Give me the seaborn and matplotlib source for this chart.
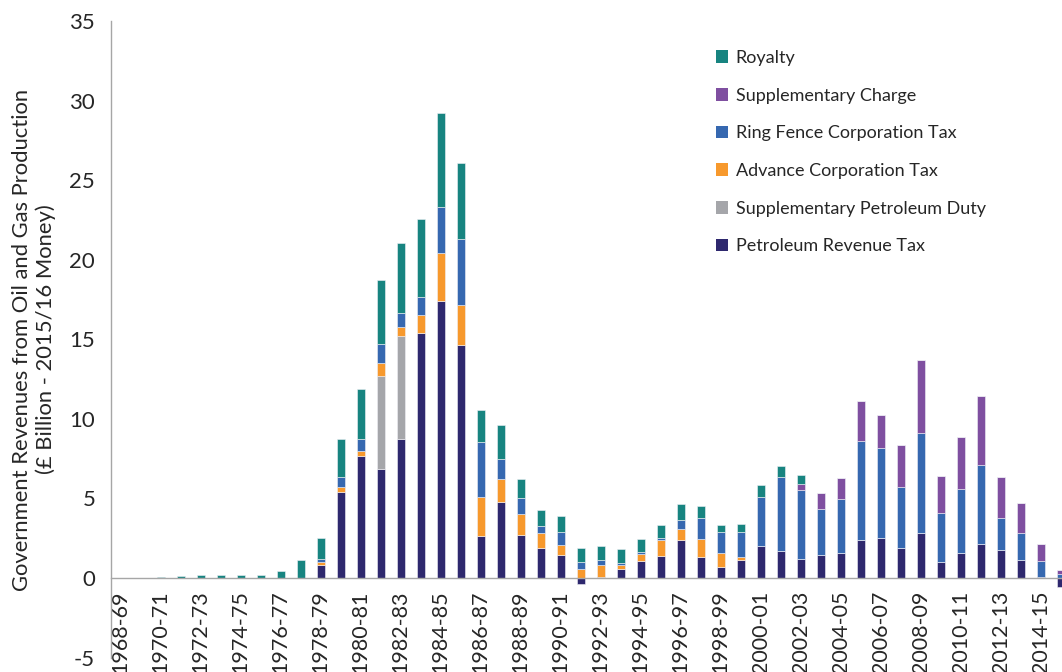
import numpy as np
import matplotlib
matplotlib.use("Agg")
import matplotlib.pyplot as plt
from matplotlib.patches import Patch
import seaborn as sns

# Financial years
years = [f"{y}-{str(y + 1)[-2:]}" for y in range(1968, 2016)]

# Revenue by tax (GBP billion, 2015/16 money)
petroleum_revenue_tax = [
    0, 0, 0, 0, 0, 0, 0, 0, 0, 0, 0.80, 5.41, 7.66, 6.88, 8.77, 15.42,
    17.41, 14.64, 2.62, 4.78, 2.68, 1.89, 1.42, -0.38, 0.08, 0.54, 1.05, 1.40,
    2.41, 1.30, 0.67, 1.13, 1.99, 1.70, 1.21, 1.47, 1.57, 2.37, 2.49, 1.89,
    2.83, 1.01, 1.57, 2.14, 1.76, 1.13, 0.05, -0.55,
]
supplementary_petroleum_duty = [
    0, 0, 0, 0, 0, 0, 0, 0, 0, 0, 0, 0, 0, 5.83, 6.46, 0,
    0, 0, 0, 0, 0, 0, 0, 0, 0, 0, 0, 0,
    0, 0, 0, 0, 0, 0, 0, 0, 0, 0, 0, 0,
    0, 0, 0, 0, 0, 0, 0, 0,
]
advance_corporation_tax = [
    0, 0, 0, 0, 0, 0, 0, 0, 0, 0, 0.18, 0.32, 0.31, 0.80, 0.57, 1.14,
    3.02, 2.50, 2.50, 1.45, 1.35, 0.93, 0.63, 0.59, 0.76, 0.30, 0.46, 0.99,
    0.65, 1.17, 0.92, 0.21, 0, 0, 0, 0, 0, 0, 0, 0,
    0, 0, 0, 0, 0, 0, 0, 0,
]
ring_fence_corporation_tax = [
    0, 0, 0, 0, 0, 0, 0, 0, 0, 0, 0.22, 0.63, 0.78, 1.18, 0.86, 1.13,
    2.92, 4.20, 3.40, 1.28, 1.01, 0.45, 0.84, 0.42, 0.31, 0.10, 0.13, 0.13,
    0.61, 1.33, 1.28, 1.53, 3.13, 4.66, 4.33, 2.87, 3.40, 6.27, 5.69, 3.86,
    6.30, 3.08, 4.03, 4.97, 1.99, 1.70, 1.02, 0.25,
]
supplementary_charge = [
    0, 0, 0, 0, 0, 0, 0, 0, 0, 0, 0, 0, 0, 0, 0, 0,
    0, 0, 0, 0, 0, 0, 0, 0, 0, 0, 0, 0,
    0, 0, 0, 0, 0, 0, 0.40, 0.99, 1.30, 2.50, 2.10, 2.64,
    4.55, 2.35, 3.28, 4.35, 2.61, 1.89, 1.07, 0.27,
]
royalty = [
    0, 0.02, 0.05, 0.10, 0.17, 0.17, 0.17, 0.17, 0.45, 1.15, 1.30, 2.39, 3.15, 4.03, 4.38, 4.91,
    5.88, 4.74, 2.03, 2.14, 1.19, 1.03, 1.01, 0.88, 0.88, 0.90, 0.81, 0.82,
    0.96, 0.73, 0.47, 0.55, 0.73, 0.71, 0.56, 0, 0, 0, 0, 0,
    0, 0, 0, 0, 0, 0, 0, 0,
]

# Stack order from the bottom up, with legend labels and colours
series = [
    ("Petroleum Revenue Tax", petroleum_revenue_tax, "#2e286e"),
    ("Supplementary Petroleum Duty", supplementary_petroleum_duty, "#a5a6aa"),
    ("Advance Corporation Tax", advance_corporation_tax, "#f7992d"),
    ("Ring Fence Corporation Tax", ring_fence_corporation_tax, "#3668b0"),
    ("Supplementary Charge", supplementary_charge, "#7f4fa0"),
    ("Royalty", royalty, "#178480"),
]

sns.set_theme(style="white")
plt.rcParams["font.family"] = ["Lato", "DejaVu Sans"]
text_color = "#262626"
axis_color = "#a6a6a6"

fig = plt.figure(figsize=(10.62, 6.72), dpi=100)
ax = fig.add_axes([110.5 / 1062, 14.5 / 672, 960 / 1062, 636.1 / 672])

pos_base = np.zeros(len(years))
neg_base = np.zeros(len(years))
for name, values, color in series:
    v = np.asarray(values, dtype=float)
    bottom = np.where(v >= 0, pos_base, neg_base)
    sns.barplot(
        x=years, y=v, bottom=bottom, color=color, saturation=1,
        width=0.4, errorbar=None, edgecolor="#f0f0f5", linewidth=0.4,
        ax=ax,
    )
    pos_base = pos_base + np.where(v >= 0, v, 0)
    neg_base = neg_base + np.where(v < 0, v, 0)

ax.set_xlim(-0.5, len(years) - 0.5)
ax.set_ylim(-5, 35)
ax.set_yticks(np.arange(-5, 36, 5))
ax.set_yticklabels([str(t) for t in range(-5, 36, 5)], fontsize=16, color=text_color)

# Category axis crossing at zero, marks between categories
ax.spines["bottom"].set_position(("data", 0))
for side in ("top", "right"):
    ax.spines[side].set_visible(False)
for side in ("left", "bottom"):
    ax.spines[side].set_color(axis_color)
    ax.spines[side].set_linewidth(1.0)

ax.set_xticks(range(0, len(years), 2))
ax.set_xticklabels(years[::2], rotation=90, fontsize=15.5, color=text_color)
ax.set_xticks(np.arange(-0.5, len(years), 1), minor=True)
ax.tick_params(axis="x", which="major", length=0, pad=9)
ax.tick_params(axis="x", which="minor", length=6, width=1, color=axis_color, direction="out")
ax.tick_params(axis="y", which="major", length=5, width=1, color=axis_color, direction="out", pad=6)
ax.set_xlabel("")

ax.set_ylabel(
    "Government Revenues from Oil and Gas Production\n(£ Billion - 2015/16 Money)",
    fontsize=15.8, color=text_color, linespacing=1.2,
)
ax.yaxis.set_label_coords(-0.057, 0.5)

handles = [Patch(facecolor=c, edgecolor="none", label=n) for n, _, c in reversed(series)]
ax.legend(
    handles=handles, loc="upper left", bbox_to_anchor=(716 / 1062, 1 - 50 / 672),
    bbox_transform=fig.transFigure, frameon=False, fontsize=13,
    handlelength=0.68, handleheight=0.68, handletextpad=0.4,
    labelspacing=1.2, borderpad=0, borderaxespad=0, labelcolor=text_color,
)

fig.savefig("out.png", dpi=100)
